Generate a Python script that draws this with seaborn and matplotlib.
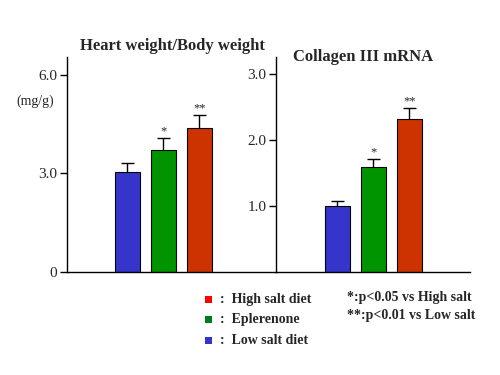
import pandas as pd
import numpy as np
import matplotlib
matplotlib.use("Agg")
import matplotlib.pyplot as plt
from matplotlib.patches import Rectangle
import seaborn as sns

# data
groups = ["Low salt diet", "Eplerenone", "High salt diet"]
colors = ["#3535CC", "#009400", "#CC3300"]
heart = [3.05, 3.73, 4.40]
heart_err = [0.27, 0.35, 0.38]
heart_marks = ["", "*", "**"]
collagen = [1.00, 1.59, 2.31]
collagen_err = [0.07, 0.11, 0.17]
collagen_marks = ["", "*", "**"]

sns.set_style("white")
plt.rcParams["font.family"] = ["Liberation Serif", "DejaVu Serif"]

fig = plt.figure(figsize=(5, 3.75), dpi=100)
ax1 = fig.add_axes([0.134, 0.275, 0.418, 0.573])
ax2 = fig.add_axes([0.552, 0.275, 0.388, 0.573])


def draw(ax, vals, errs, marks, ylim, ticks, labels, xlim):
    df = pd.DataFrame({"group": groups, "value": vals})
    sns.barplot(data=df, x="group", y="value", hue="group", palette=colors,
                order=groups, width=0.7, edgecolor="black", linewidth=0.8,
                legend=False, saturation=1, ax=ax)
    x = np.arange(len(vals))
    top = np.array(vals) + np.array(errs)
    ax.vlines(x, vals, top, color="black", lw=1)
    ax.hlines(top, x - 0.18, x + 0.18, color="black", lw=1)
    for xi, t, m in zip(x, top, marks):
        if m:
            ax.text(xi, t + 0.005 * ylim, m, ha="center", va="bottom", fontsize=9)
    ax.set_ylim(0, ylim)
    ax.set_xlim(*xlim)
    ax.set_yticks(ticks)
    ax.set_yticklabels(labels, fontsize=11)
    ax.set_xticks([])
    ax.set_xlabel("")
    ax.set_ylabel("")
    for s in ["top", "right"]:
        ax.spines[s].set_visible(False)
    for s in ["left", "bottom"]:
        ax.spines[s].set_color("black")
        ax.spines[s].set_linewidth(1)
    ax.tick_params(axis="y", left=True, direction="out", length=5, width=1,
                   color="black", pad=2)
    ax.patch.set_alpha(0)


draw(ax1, heart, heart_err, heart_marks, 6.55, [0, 3, 6], ["0", "3.0", "6.0"],
     (-1.68, 4.14))
draw(ax2, collagen, collagen_err, collagen_marks, 3.25, [1, 2, 3],
     ["1.0", "2.0", "3.0"], (-1.71, 3.69))

fig.text(172 / 500, 1 - 46 / 375, "Heart weight/Body weight", ha="center",
         va="center", fontsize=12, fontweight="bold")
fig.text(363 / 500, 1 - 57 / 375, "Collagen III mRNA", ha="center",
         va="center", fontsize=12, fontweight="bold")
fig.text(35 / 500, 1 - 101 / 375, "(mg/g)", ha="center", va="center",
         fontsize=10)

# legend
leg_colors = ["#FF0000", "#007A1E", "#3333CC"]
leg_labels = ["High salt diet", "Eplerenone", "Low salt diet"]
leg_y = [299, 319, 340]
for c, lab, y in zip(leg_colors, leg_labels, leg_y):
    fig.add_artist(Rectangle((205 / 500, 1 - (y + 3.5) / 375), 7 / 500, 7 / 375,
                             transform=fig.transFigure, facecolor=c,
                             edgecolor="none"))
    fig.text(220 / 500, 1 - y / 375, ":  " + lab, ha="left", va="center",
             fontsize=10, fontweight="bold")

notes = ["*:p<0.05 vs High salt", "**:p<0.01 vs Low salt"]
for txt, y in zip(notes, [298, 315]):
    fig.text(347 / 500, 1 - y / 375, txt, ha="left", va="center",
             fontsize=10, fontweight="bold")

fig.savefig("out.png", dpi=100)
